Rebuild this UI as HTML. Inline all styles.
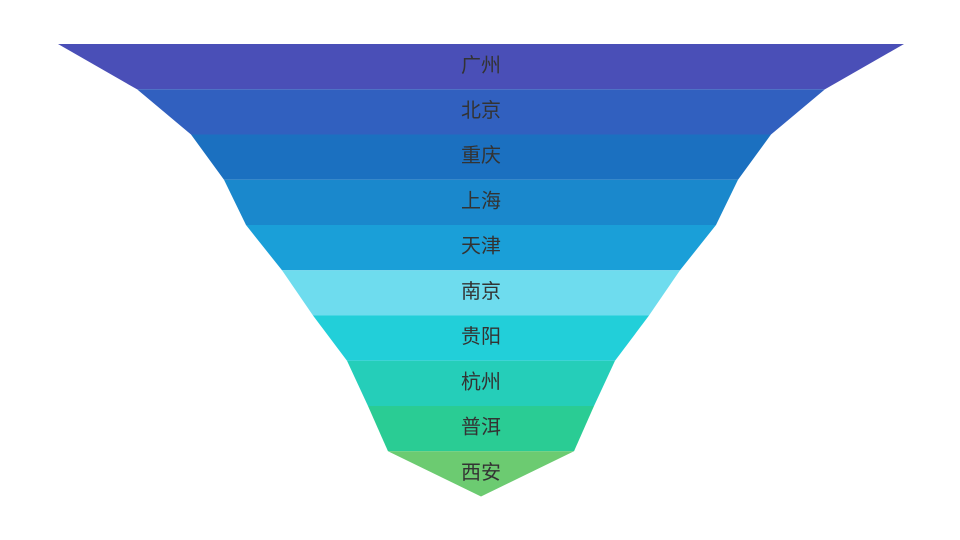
<!DOCTYPE html>
<html><head><meta charset="utf-8"><style>
html,body{margin:0;padding:0;background:#fff;width:960px;height:540px;overflow:hidden}
svg text{font-family:"Liberation Sans","Noto Sans CJK SC",sans-serif;font-size:20px;fill:#333;text-anchor:middle;dominant-baseline:central}
</style></head><body>
<svg width="960" height="540" xmlns="http://www.w3.org/2000/svg">
<polygon points="58,44 904,44 825,89.3 137,89.3" fill="#4a4fb7"/>
<polygon points="137,89.3 825,89.3 771,134.5 191,134.5" fill="#3160bf"/>
<polygon points="191,134.5 771,134.5 738,179.8 224,179.8" fill="#1b70c0"/>
<polygon points="224,179.8 738,179.8 716,225 246,225" fill="#1a88cc"/>
<polygon points="246,225 716,225 680,270.3 282,270.3" fill="#1a9fd8"/>
<polygon points="282,270.3 680,270.3 649,315.5 313,315.5" fill="#6edcee"/>
<polygon points="313,315.5 649,315.5 615,360.8 347,360.8" fill="#22cfd9"/>
<polygon points="347,360.8 615,360.8 594,406 368,406" fill="#25ceb9"/>
<polygon points="368,406 594,406 574,451.3 388,451.3" fill="#2acc94"/>
<polygon points="388,451.3 574,451.3 481,496.5" fill="#6ccb71"/>
<text x="481" y="66">广州</text>
<text x="481" y="111">北京</text>
<text x="481" y="156">重庆</text>
<text x="481" y="201.5">上海</text>
<text x="481" y="246.5">天津</text>
<text x="481" y="292">南京</text>
<text x="481" y="337">贵阳</text>
<text x="481" y="382.5">杭州</text>
<text x="481" y="427.5">普洱</text>
<text x="481" y="473">西安</text>
</svg>
</body></html>
